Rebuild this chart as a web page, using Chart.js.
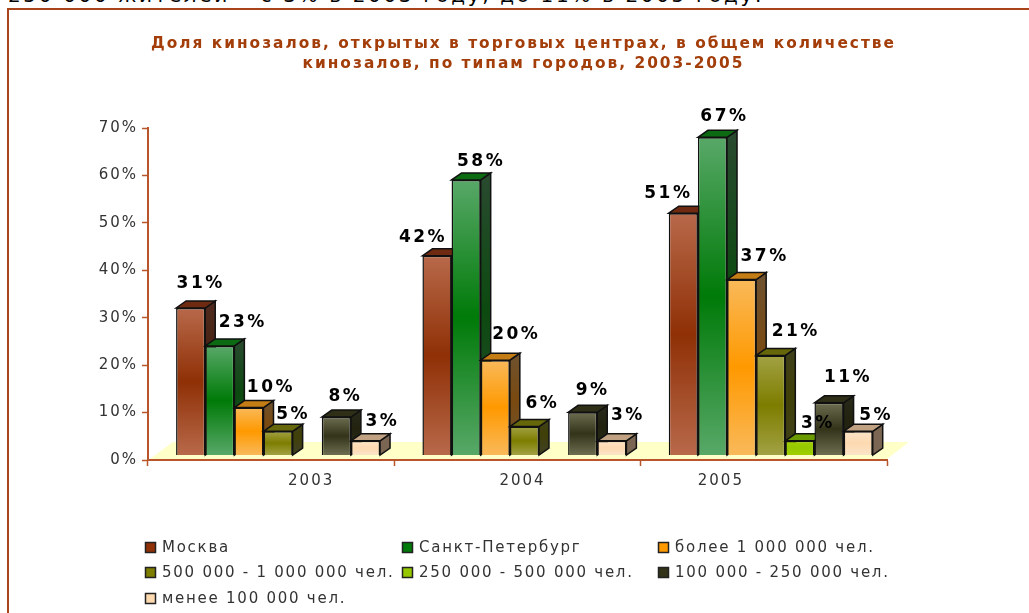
<!DOCTYPE html>
<html lang="ru">
<head>
<meta charset="utf-8">
<title>Доля кинозалов</title>
<script src="https://cdn.jsdelivr.net/npm/chart.js@4"></script>
<style>
    html, body { margin: 0; padding: 0; background: #fff; overflow: hidden; }
    #page { position: relative; width: 1029px; height: 613px; overflow: hidden; }
    #intro { position: absolute; left: 8px; top: -17px; font: 20px "DejaVu Sans", sans-serif; letter-spacing: 2.65px; color: #000; white-space: nowrap; }
    #frame { position: absolute; left: 7px; top: 8px; width: 1100px; height: 700px; border: 2px solid #a8431a; box-sizing: border-box; }
    canvas { position: absolute; left: 0; top: 0; }
</style>
</head>
<body>
<div id="page">
    <div id="intro">250 000 жителей – с 3% в 2003 году, до 11% в 2005 году.</div>
    <div id="frame"></div>
    <canvas id="chart" width="1029" height="613"></canvas>
</div>
<script>
// data
const years = ['2003', '2004', '2005'];
const seriesNames = ['Москва', 'Санкт-Петербург', 'более 1 000 000 чел.', '500 000 - 1 000 000 чел.', '250 000 - 500 000 чел.', '100 000 - 250 000 чел.', 'менее 100 000 чел.'];
const moscow = [31, 42, 51];
const petersburg = [23, 58, 67];
const over1m = [10, 20, 37];
const from500k = [5, 6, 21];
const from250k = [null, null, 3];
const from100k = [8, 9, 11];
const under100k = [3, 3, 5];
const yTicks = [0, 10, 20, 30, 40, 50, 60, 70];

const seriesValues = [moscow, petersburg, over1m, from500k, from250k, from100k, under100k];

// colours per series: [front edge, front middle, top face, side edge, side middle]
const seriesColors = [
    ['#b8694a', '#8f3006', '#6f2a12', '#4f2a1e', '#45200f'],
    ['#58a868', '#007a08', '#0b6a12', '#2a4a30', '#0c4a10'],
    ['#f9b95a', '#ff9900', '#c47d14', '#6e5230', '#7a4a10'],
    ['#a2a244', '#7d7d00', '#66660a', '#40401c', '#404008'],
    ['#a0d000', '#96c800', '#6a9a00', '#4a6600', '#4a6600'],
    ['#6d6d50', '#33331a', '#2f2f18', '#2a2a1c', '#22220f'],
    ['#fbe4c8', '#fdd9b0', '#c0a282', '#7a6652', '#7a6652']
];

// 3d box depth and label placement, relative to the front top centre of each bar
const depthX = 10;
const depthY = 7;
const labelShift = [
    [[10, -24], [-14, -18], [-15, -20]],
    [[23, -23], [15, -18], [12, -21]],
    [[22, -20], [21, -26], [23, -23]],
    [[15, -17], [18, -23], [25, -24]],
    [null, null, [18, -17]],
    [[9, -21], [10, -22], [19, -25]],
    [[17, -19], [16, -25], [18, -16]]
];
const yearShift = [40, 5, -43];

const axisColor = '#b8552b';
const textColor = '#333333';
const edgeColor = '#111111';
const edgeWidth = 1.5;
const textFont = '15px "DejaVu Sans", sans-serif';

function frontGradient(ctx, top, bottom, edge, middle) {
    const g = ctx.createLinearGradient(0, top, 0, bottom);
    g.addColorStop(0, edge);
    g.addColorStop(0.5, middle);
    g.addColorStop(1, edge);
    return g;
}

function drawFaces(ctx, bar, colors) {
    const right = bar.x + bar.width / 2;
    const left = bar.x - bar.width / 2;
    ctx.strokeStyle = edgeColor;
    ctx.lineWidth = edgeWidth;
    ctx.fillStyle = frontGradient(ctx, bar.y - depthY, bar.base - depthY, colors[3], colors[4]);
    ctx.beginPath();
    ctx.moveTo(right, bar.y);
    ctx.lineTo(right + depthX, bar.y - depthY);
    ctx.lineTo(right + depthX, bar.base - depthY);
    ctx.lineTo(right, bar.base);
    ctx.closePath();
    ctx.fill();
    ctx.stroke();
    ctx.fillStyle = colors[2];
    ctx.beginPath();
    ctx.moveTo(left, bar.y);
    ctx.lineTo(left + depthX, bar.y - depthY);
    ctx.lineTo(right + depthX, bar.y - depthY);
    ctx.lineTo(right, bar.y);
    ctx.closePath();
    ctx.fill();
    ctx.stroke();
}

const boxPlugin = {
    id: 'box',
    afterLayout(chart) {
        // the title sits to the right of the plot centre
        chart.titleBlock.left = 151;
        chart.titleBlock.right = 896;
    },
    beforeDraw(chart) {
        chart.ctx.letterSpacing = '2px';
    },
    beforeDatasetDraw() {
        return false; // painted left to right below, chart.js would go right to left
    },
    afterDatasetsDraw(chart) {
        const ctx = chart.ctx;
        const area = chart.chartArea;
        ctx.save();

        // yellow floor under the bars
        ctx.fillStyle = '#ffffc8';
        ctx.beginPath();
        ctx.moveTo(area.left + 2, area.bottom - 1);
        ctx.lineTo(area.left + 25, area.bottom - 18);
        ctx.lineTo(area.right + 22, area.bottom - 18);
        ctx.lineTo(area.right, area.bottom - 1);
        ctx.closePath();
        ctx.fill();

        seriesNames.forEach((name, i) => {
            const meta = chart.getDatasetMeta(i);
            meta.data.forEach((bar, j) => {
                if (seriesValues[i][j] !== null) { drawFaces(ctx, bar, seriesColors[i]); }
            });
            meta.controller.draw();
        });

        ctx.textAlign = 'center';
        ctx.textBaseline = 'middle';

        // value labels
        ctx.font = 'bold 17px "DejaVu Sans", sans-serif';
        ctx.letterSpacing = '2.5px';
        ctx.fillStyle = '#000';
        seriesNames.forEach((name, i) => {
            chart.getDatasetMeta(i).data.forEach((bar, j) => {
                const value = seriesValues[i][j];
                if (value === null) { return; }
                const shift = labelShift[i][j];
                ctx.fillText(value + '%', bar.x + shift[0], bar.y + shift[1]);
            });
        });

        // year labels
        ctx.font = textFont;
        ctx.letterSpacing = '2px';
        ctx.fillStyle = textColor;
        const xScale = chart.scales.x;
        years.forEach((year, i) => {
            ctx.fillText(year, xScale.getPixelForValue(i) + yearShift[i], 481);
        });

        // legend in three fixed columns
        const columns = [145, 402, 658];
        const rows = [547.5, 572.5, 598.5];
        ctx.textAlign = 'left';
        ctx.letterSpacing = '1.75px';
        seriesNames.forEach((name, i) => {
            const x = columns[i % 3];
            const y = rows[Math.floor(i / 3)];
            ctx.fillStyle = seriesColors[i][1];
            ctx.fillRect(x, y - 5.5, 11, 11);
            ctx.strokeStyle = '#222';
            ctx.lineWidth = edgeWidth;
            ctx.strokeRect(x + 0.5, y - 5, 10, 10);
            ctx.fillStyle = textColor;
            ctx.fillText(name, x + 17, y + 1);
        });
        ctx.restore();
    }
};

new Chart(document.getElementById('chart'), {
    type: 'bar',
    plugins: [boxPlugin],
    data: {
        labels: years,
        datasets: seriesNames.map((name, i) => ({
            label: name,
            data: seriesValues[i].map((v, j) => ({ x: j, y: v })),
            xAxisID: 'xBars',
            yAxisID: 'yBars',
            categoryPercentage: 0.828,
            barPercentage: 1,
            borderColor: edgeColor,
            borderWidth: edgeWidth,
            backgroundColor: ctx => {
                const scale = ctx.chart.scales.yBars;
                if (ctx.type !== 'data' || !ctx.raw || ctx.raw.y === null || !scale) { return seriesColors[i][1]; }
                const top = scale.getPixelForValue(ctx.raw.y);
                const bottom = scale.getPixelForValue(0);
                if (!isFinite(top) || !isFinite(bottom)) { return seriesColors[i][1]; }
                return frontGradient(ctx.chart.ctx, top, bottom, seriesColors[i][0], seriesColors[i][1]);
            }
        }))
    },
    options: {
        responsive: false,
        animation: false,
        events: [],
        layout: { padding: { left: 88, right: 142, top: 34, bottom: 113 } },
        plugins: {
            legend: { display: false },
            tooltip: { enabled: false },
            title: {
                display: true,
                text: ['Доля кинозалов, открытых в торговых центрах, в общем количестве', 'кинозалов, по типам городов, 2003-2005'],
                color: '#a33d0a',
                font: { family: '"DejaVu Sans", sans-serif', size: 15.4, weight: 'bold', lineHeight: 1.3 },
                padding: { top: 0, bottom: 54 }
            }
        },
        scales: {
            x: {
                type: 'category',
                offset: true,
                afterFit: s => { s.height = 40; },
                grid: { offset: true, drawOnChartArea: false, tickLength: 6, color: axisColor, tickWidth: 1.5 },
                border: { color: axisColor, width: 2 },
                ticks: { display: false }
            },
            // bars stand a little off the axes, that is the 3d floor
            xBars: {
                axis: 'x',
                type: 'linear',
                display: false,
                offset: false,
                bounds: 'data',
                min: -0.528,
                max: 2.472,
                afterBuildTicks: s => { s.ticks = years.map((year, i) => ({ value: i })); }
            },
            y: {
                min: 0,
                max: 70,
                afterFit: s => { s.width = 60; },
                afterBuildTicks: s => { s.ticks = yTicks.map(v => ({ value: v })); },
                grid: { drawOnChartArea: false, tickLength: 6, color: axisColor, tickWidth: 1.5 },
                border: { color: axisColor, width: 2 },
                ticks: { color: textColor, font: { family: '"DejaVu Sans", sans-serif', size: 15 }, padding: 4, callback: v => v + '%' }
            },
            yBars: { axis: 'y', type: 'linear', display: false, min: -1.05, max: 68.95 }
        }
    }
});
</script>
</body>
</html>
